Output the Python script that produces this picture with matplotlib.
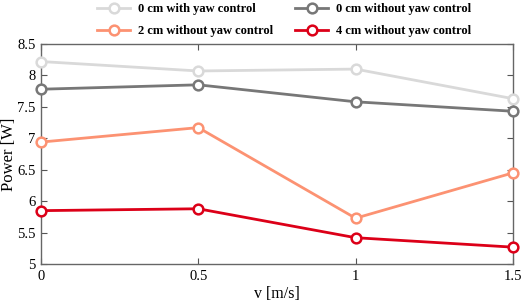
import matplotlib.pyplot as plt

# data
v = [0, 0.5, 1, 1.5]
p_0cm_yaw = [8.22, 8.07, 8.10, 7.63]
p_0cm = [7.78, 7.85, 7.58, 7.43]
p_2cm = [6.94, 7.17, 5.73, 6.45]
p_4cm = [5.85, 5.88, 5.42, 5.27]

labels = ['0 cm with yaw control', '0 cm without yaw control',
          '2 cm without yaw control', '4 cm without yaw control']
colors = ['#d9d9d9', '#777777', '#fc9272', '#dc0018']

plt.rcParams['font.family'] = 'Liberation Serif'

fig = plt.figure(figsize=(5.26, 3.05), dpi=100)
ax = fig.add_axes([0.078, 0.134, 0.897, 0.722])

for y, lab, c in zip([p_0cm_yaw, p_0cm, p_2cm, p_4cm], labels, colors):
    ax.plot(v, y, color=c, lw=2, marker='o', ms=7, mfc='white', mew=1.8,
            label=lab, clip_on=False, zorder=3)

ax.set_xlim(0, 1.5)
ax.set_ylim(5, 8.5)
ax.set_xticks([0, 0.5, 1, 1.5])
ax.set_xticklabels(['0', '0.5', '1', '1.5'])
ax.set_yticks([5, 5.5, 6, 6.5, 7, 7.5, 8, 8.5])
ax.set_yticklabels(['5', '5.5', '6', '6.5', '7', '7.5', '8', '8.5'])
ax.tick_params(direction='in', top=True, right=True, labelsize=10.5,
               length=4, color='#555555', pad=4)
for s in ax.spines.values():
    s.set_color('#666666')
    s.set_linewidth(1.0)

ax.set_xlabel('v [m/s]', fontsize=11.5)
ax.set_ylabel('Power [W]', fontsize=12)
ax.xaxis.set_label_coords(0.5, -0.1)
ax.yaxis.set_label_coords(-0.05, 0.5)

# legend in row order: two columns above the plot
h, l = ax.get_legend_handles_labels()
order = [0, 2, 1, 3]
fig.legend([h[i] for i in order], [l[i] for i in order], ncol=2,
           loc='upper center', bbox_to_anchor=(0.54, 1.027), frameon=False,
           prop={'weight': 'bold', 'size': 9}, handlelength=2.65,
           columnspacing=1.75, labelspacing=0.8, handletextpad=0.6)

fig.savefig('out.png', dpi=100)
